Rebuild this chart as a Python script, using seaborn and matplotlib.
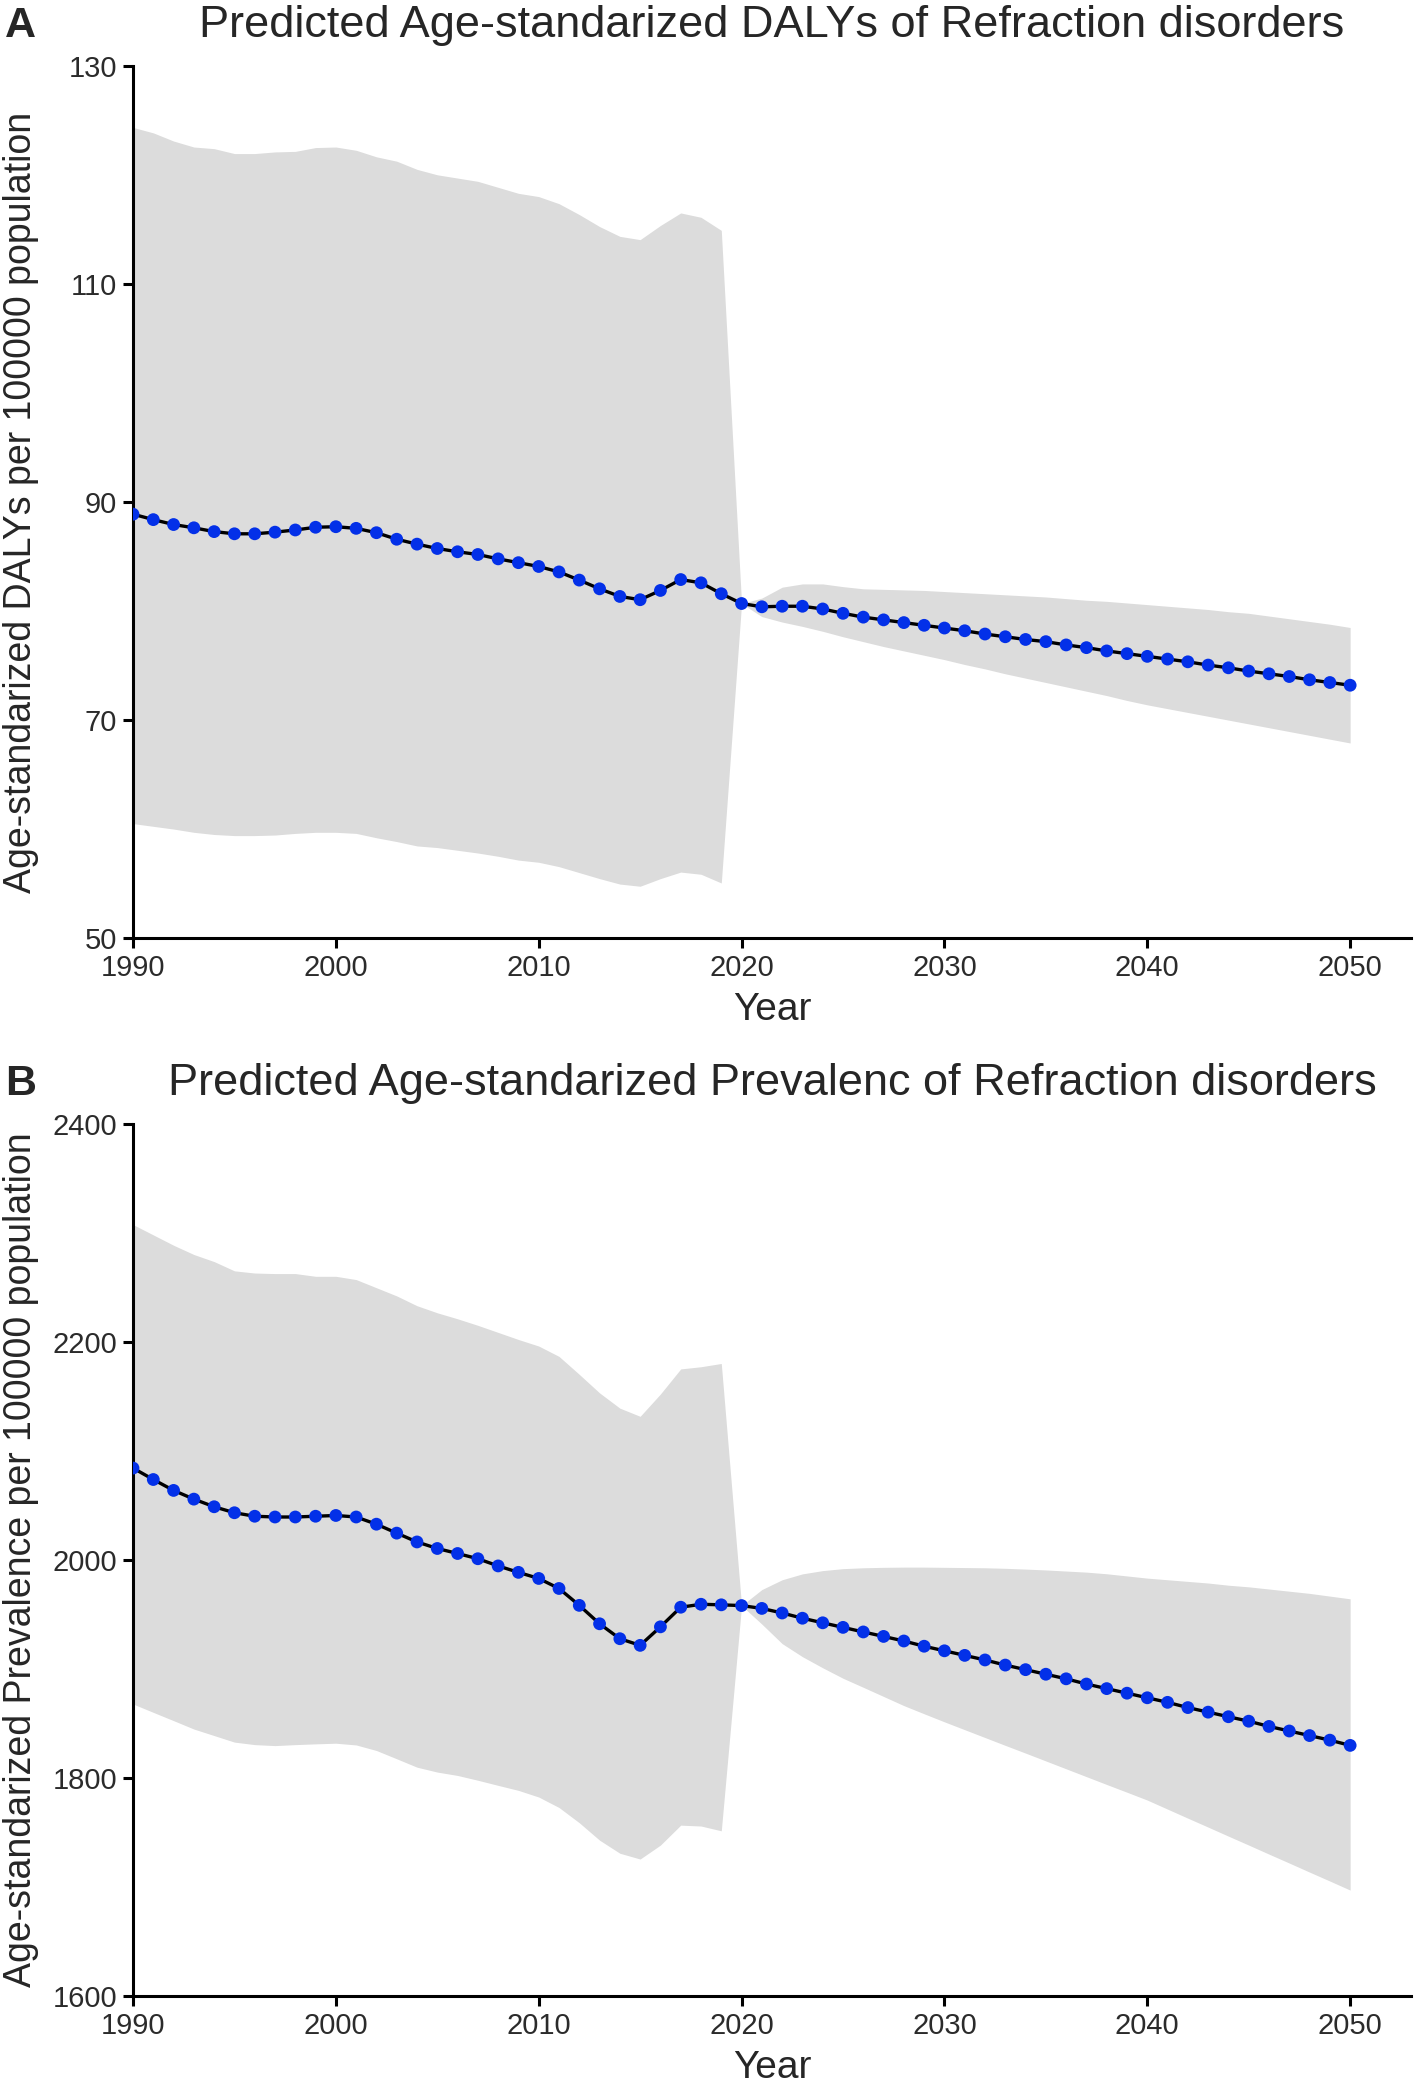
import matplotlib
matplotlib.use('Agg')
import matplotlib.pyplot as plt
import seaborn as sns
import pandas as pd
import numpy as np

# Years 1990-2050
years = list(range(1990, 2051))

# Panel A: age-standardized DALYs (per 100000)
dalys = [88.9, 88.4, 87.95, 87.65, 87.3, 87.1, 87.1, 87.25, 87.45, 87.7,
         87.75, 87.6, 87.2, 86.6, 86.15, 85.75, 85.45, 85.2, 84.8, 84.45,
         84.1, 83.6, 82.85, 82.05, 81.35, 81.05, 81.9, 82.9, 82.6, 81.6,
         80.7, 80.4, 80.45, 80.45, 80.2, 79.8, 79.45, 79.2, 78.95, 78.7,
         78.45, 78.2, 77.9, 77.65, 77.4, 77.2, 76.9, 76.65, 76.35, 76.1,
         75.85, 75.6, 75.35, 75.05, 74.8, 74.5, 74.25, 74.0, 73.7, 73.45,
         73.2]
dalys_upper = [124.4, 123.9, 123.15, 122.6, 122.45, 122.0, 122.0, 122.15, 122.2, 122.55,
               122.6, 122.3, 121.7, 121.3, 120.55, 120.05, 119.75, 119.45, 118.9, 118.35,
               118.05, 117.4, 116.4, 115.3, 114.4, 114.1, 115.4, 116.55, 116.15, 114.95,
               80.7, 81.2, 82.2, 82.5, 82.5, 82.25, 82.05, 82.0, 81.95, 81.9,
               81.8, 81.7, 81.6, 81.5, 81.4, 81.3, 81.15, 81.0, 80.9, 80.75,
               80.6, 80.45, 80.3, 80.15, 79.95, 79.8, 79.55, 79.3, 79.05, 78.8,
               78.5]
dalys_lower = [60.5, 60.25, 60.0, 59.7, 59.5, 59.4, 59.4, 59.45, 59.6, 59.7,
               59.7, 59.6, 59.2, 58.85, 58.45, 58.3, 58.05, 57.8, 57.5, 57.15,
               56.95, 56.55, 56.0, 55.45, 54.95, 54.75, 55.45, 56.05, 55.85, 55.05,
               80.7, 79.5, 79.0, 78.6, 78.15, 77.65, 77.2, 76.75, 76.35, 75.95,
               75.55, 75.1, 74.7, 74.25, 73.85, 73.45, 73.05, 72.65, 72.25, 71.8,
               71.4, 71.05, 70.7, 70.35, 70.0, 69.65, 69.3, 68.95, 68.6, 68.25,
               67.9]

# Panel B: age-standardized prevalence (per 100000)
prev = [2084.5, 2074.0, 2064.0, 2056.0, 2049.0, 2043.5, 2040.3, 2039.6, 2039.6, 2040.3,
        2041.0, 2039.6, 2033.0, 2024.8, 2016.7, 2010.7, 2006.1, 2001.3, 1994.7, 1988.8,
        1983.2, 1974.0, 1958.5, 1941.6, 1927.9, 1921.8, 1938.8, 1956.8, 1959.5, 1959.0,
        1958.3, 1955.7, 1951.5, 1946.7, 1942.5, 1938.3, 1934.1, 1930.0, 1925.8, 1921.0,
        1916.8, 1912.6, 1908.4, 1903.7, 1899.5, 1895.3, 1891.1, 1886.3, 1882.1, 1877.9,
        1873.7, 1869.5, 1864.7, 1860.5, 1856.3, 1852.2, 1847.4, 1843.2, 1839.0, 1834.8,
        1830.0]
prev_upper = [2308.0, 2298.5, 2289.0, 2280.5, 2274.0, 2265.5, 2263.5, 2263.0, 2263.0, 2260.5,
              2260.5, 2257.5, 2250.0, 2242.5, 2233.5, 2227.0, 2221.5, 2215.5, 2209.0, 2202.5,
              2196.5, 2187.0, 2170.5, 2153.5, 2139.5, 2132.0, 2152.5, 2175.5, 2177.5, 2180.5,
              1958.3, 1973.0, 1982.0, 1987.4, 1990.4, 1992.2, 1993.0, 1993.4, 1993.6, 1993.6,
              1993.4, 1993.2, 1993.0, 1992.5, 1991.8, 1991.0, 1990.0, 1989.0, 1987.5, 1985.5,
              1983.5, 1982.0, 1980.5, 1979.0, 1977.0, 1975.5, 1973.5, 1971.5, 1969.5, 1967.0,
              1964.5]
prev_lower = [1868.0, 1860.3, 1852.7, 1845.0, 1839.0, 1833.0, 1830.7, 1829.8, 1830.7, 1831.4,
              1832.0, 1830.4, 1825.3, 1817.7, 1810.0, 1805.5, 1802.4, 1798.0, 1793.3, 1788.7,
              1782.6, 1773.0, 1759.0, 1743.0, 1731.0, 1725.7, 1738.5, 1756.8, 1756.0, 1751.6,
              1958.3, 1941.3, 1923.4, 1911.4, 1901.2, 1891.6, 1883.3, 1874.9, 1866.5, 1859.0,
              1851.6, 1844.4, 1837.2, 1830.0, 1822.9, 1815.7, 1808.5, 1801.3, 1794.1, 1787.0,
              1779.8, 1771.5, 1763.2, 1755.0, 1746.7, 1738.5, 1730.2, 1722.0, 1713.7, 1705.5,
              1697.2]

x_ticks = [1990, 2000, 2010, 2020, 2030, 2040, 2050]

sns.set_theme(style='ticks')
plt.rcParams['font.family'] = ['Liberation Sans', 'DejaVu Sans']

W, H = 1418, 2083
fig = plt.figure(figsize=(W / 100, H / 100), dpi=100)

panels = [
    dict(letter='A', title='Predicted Age-standarized DALYs of Refraction disorders',
         ylabel='Age-standarized DALYs per 100000 population',
         y=dalys, lo=dalys_lower, hi=dalys_upper, ylim=(50, 130), yticks=[50, 70, 90, 110, 130],
         top=66.4, bottom=938, title_base=37, ylab_center=502),
    dict(letter='B', title='Predicted Age-standarized Prevalenc of Refraction disorders',
         ylabel='Age-standarized Prevalence per 100000 population',
         y=prev, lo=prev_lower, hi=prev_upper, ylim=(1600, 2400), yticks=[1600, 1800, 2000, 2200, 2400],
         top=1124.3, bottom=1996, title_base=1095, ylab_center=1560),
]

left_px, right_px = 133, 1411
for p in panels:
    ax = fig.add_axes([left_px / W, 1 - p['bottom'] / H,
                       (right_px - left_px) / W, (p['bottom'] - p['top']) / H])
    df = pd.DataFrame({'year': years, 'value': p['y'], 'lo': p['lo'], 'hi': p['hi']})
    ax.fill_between(df['year'], df['lo'], df['hi'], color='#DCDCDC', linewidth=0, zorder=1)
    sns.lineplot(data=df, x='year', y='value', ax=ax, color='black', linewidth=2.4, zorder=2)
    sns.scatterplot(data=df, x='year', y='value', ax=ax, color='#0330E8', s=85,
                    edgecolor='none', zorder=3)
    ax.set_xlim(1990, 2053)
    ax.set_ylim(*p['ylim'])
    ax.set_xticks(x_ticks)
    ax.set_yticks(p['yticks'])
    ax.set_xlabel('')
    ax.set_ylabel('')
    sns.despine(ax=ax)
    for s in ['left', 'bottom']:
        ax.spines[s].set_linewidth(2.2)
        ax.spines[s].set_color('black')
    ax.tick_params(axis='both', length=7, width=2.2, color='black', labelsize=21,
                   labelcolor='#2b2b2b', pad=4.5)
    ax.patch.set_alpha(0)

    cx = (left_px + right_px) / 2 / W
    fig.text(cx, 1 - p['title_base'] / H, p['title'], ha='center', va='baseline', fontsize=32.5)
    fig.text(5 / W, 1 - p['title_base'] / H, p['letter'], ha='left', va='baseline',
             fontsize=31, fontweight='bold')
    fig.text(21 / W, 1 - p['ylab_center'] / H, p['ylabel'], rotation=90,
             ha='center', va='center', fontsize=27)
    fig.text(cx, 1 - (p['bottom'] + 82) / H, 'Year', ha='center', va='baseline', fontsize=28)

fig.savefig('out.png', dpi=100, facecolor='white')
